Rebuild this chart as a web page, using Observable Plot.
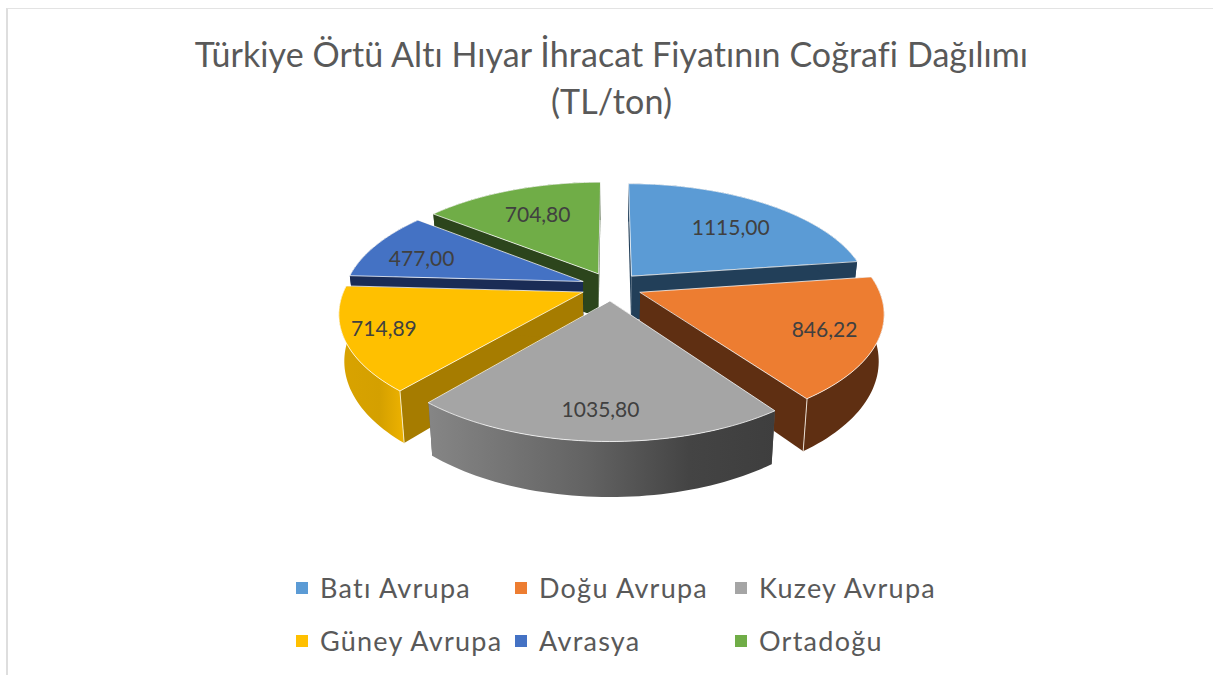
<!DOCTYPE html>
<html lang="tr">
<head>
<meta charset="utf-8">
<script src="https://cdn.jsdelivr.net/npm/d3@7"></script>
<script src="https://cdn.jsdelivr.net/npm/@observablehq/plot@0.6"></script>
<style>
  html, body { margin: 0; padding: 0; background: #fff; }
  #chart { position: relative; width: 1213px; height: 675px; overflow: hidden; font-family: Lato, sans-serif; }
  #frame { position: absolute; left: 6px; top: 8px; width: 1300px; height: 800px; border-left: 2px solid #dedede; border-top: 1px solid #e3e3e3; }
  #title { position: absolute; left: 0; top: 30px; width: 1223px; text-align: center; font-size: 34px; line-height: 47px; letter-spacing: 0.09px; color: #595959; }
  #plot { position: absolute; left: 0; top: 130px; }
  #legend { position: absolute; left: 296px; top: 561px; display: grid; grid-template-columns: 219px 220px auto; grid-auto-rows: 53px; font-size: 27px; color: #595959; letter-spacing: 1.25px; }
  #legend div { display: flex; align-items: center; white-space: nowrap; }
  #legend i { display: inline-block; width: 12px; height: 12px; margin-right: 12px; }
</style>
</head>
<body>
<div id="chart">
  <div id="frame"></div>
  <div id="title">Türkiye Örtü Altı Hıyar İhracat Fiyatının Coğrafi Dağılımı<br>(TL/ton)</div>
  <div id="plot"></div>
  <div id="legend"></div>
</div>
<script>
const categories = ["Batı Avrupa", "Doğu Avrupa", "Kuzey Avrupa", "Güney Avrupa", "Avrasya", "Ortadoğu"];
const values = [1115.00, 846.22, 1035.80, 714.89, 477.00, 704.80];
const valueLabels = ["1115,00", "846,22", "1035,80", "714,89", "477,00", "704,80"];

const topColors = ["#5B9BD5", "#ED7D31", "#A5A5A5", "#FFC000", "#4472C4", "#70AD47"];
const sideColors = ["#223F59", "#5F2F12", "#5E5E5E", "#A67C00", "#1A2C56", "#2C451C"];
const rimColors = ["#223F59", "#5F2F12", "url(#rimGrey)", "url(#rimGold)", "#1A2C56", "#2C451C"];
const labelReach = [0.8, 0.92, 0.94, 0.975, 0.89, 0.81];
const labelNudge = [[6, 3], [-1, 1], [0, 0], [0, -3], [-2, 6], [1, 1]];
const paintOrder = [0, 5, 4, 3, 1, 2];

// pie geometry in unit-disk terms
const explode = 0.13, persp = 0.169, drop = 0.405, shrink = 0.98;
const W = 1213, H = 420, cx = 611, cy = 156, R = 237.5, Ry = 111;

const arcs = d3.pie().sort(null).value(d => d)(values);
const w = Y => 1 / (1 - persp * Y);
const project = (X, Y) => ({x: X * w(Y), y: Y * w(Y), w: w(Y)});
const lower = p => ({x: p.x * shrink, y: p.y + drop * p.w, w: p.w});
const dirOf = a => [Math.sin(a), -Math.cos(a)];

function sliceGeometry(a) {
  const mid = (a.startAngle + a.endAngle) / 2;
  const [ox, oy] = dirOf(mid);
  const apex = project(ox * explode, oy * explode);
  const n = Math.ceil((a.endAngle - a.startAngle) / (Math.PI / 120));
  const rim = d3.range(n + 1).map(i => {
    const t = a.startAngle + (a.endAngle - a.startAngle) * i / n;
    const [dx, dy] = dirOf(t);
    return project(ox * explode + dx, oy * explode + dy);
  });
  return {mid, apex, rim};
}

const closedShape = (points, options) =>
  Plot.line(points, {x: "x", y: "y", curve: "linear-closed", ...options});

const marks = [];
marks.push(() => {
  const g = d3.create("svg:g");
  const defs = g.append("defs");
  const grad = (id, x1, x2, stops) => {
    const lg = defs.append("linearGradient").attr("id", id)
      .attr("gradientUnits", "userSpaceOnUse")
      .attr("x1", x1).attr("x2", x2).attr("y1", 0).attr("y2", 0);
    stops.forEach(([o, c]) => lg.append("stop").attr("offset", o).attr("stop-color", c));
  };
  grad("rimGrey", 430, 775, [[0, "#858585"], [0.45, "#636363"], [0.75, "#444444"], [1, "#3E3E3E"]]);
  grad("rimGold", 338, 406, [[0, "#D9A300"], [0.6, "#D4A000"], [1, "#F0B400"]]);
  return g.node();
});

paintOrder.forEach(i => {
  const {apex, rim} = sliceGeometry(arcs[i]);
  const first = rim[0], last = rim[rim.length - 1];
  // radial walls
  marks.push(closedShape([apex, first, lower(first), lower(apex)], {fill: sideColors[i]}));
  marks.push(closedShape([apex, last, lower(last), lower(apex)], {fill: sideColors[i]}));
  // outer wall
  marks.push(closedShape([...rim, ...rim.map(lower).reverse()], {fill: rimColors[i]}));
  // corner seams on the two front slices
  if (i === 1) marks.push(Plot.line([last, lower(last)], {x: "x", y: "y", stroke: "#e8ddd2", strokeWidth: 1}));
  if (i === 3) marks.push(Plot.line([first, lower(first)], {x: "x", y: "y", stroke: "#f5e9c0", strokeWidth: 1}));
  // top face
  marks.push(closedShape([apex, ...rim], {fill: topColors[i], stroke: "#ffffff", strokeOpacity: 0.75, strokeWidth: 1}));
});

const labels = arcs.map((a, i) => {
  const mid = (a.startAngle + a.endAngle) / 2;
  const [dx, dy] = dirOf(mid);
  const p = project(dx * labelReach[i], dy * labelReach[i]);
  return {x: p.x + labelNudge[i][0] / R, y: p.y + labelNudge[i][1] / Ry, text: valueLabels[i]};
});
marks.push(Plot.text(labels, {x: "x", y: "y", text: "text", fontSize: 21, fill: "#404040", fontFamily: "Lato, sans-serif"}));

const chart = Plot.plot({
  width: W, height: H,
  margin: 0,
  x: {type: "linear", domain: [-cx / R, (W - cx) / R], range: [0, W], axis: null},
  y: {type: "linear", domain: [-cy / Ry, (H - cy) / Ry], range: [0, H], axis: null},
  style: {background: "transparent", overflow: "visible"},
  marks
});
document.getElementById("plot").appendChild(chart);

const legend = d3.select("#legend");
categories.forEach((c, i) => {
  const item = legend.append("div");
  item.append("i").style("background", topColors[i]);
  item.append("span").text(c);
});
</script>
</body>
</html>
